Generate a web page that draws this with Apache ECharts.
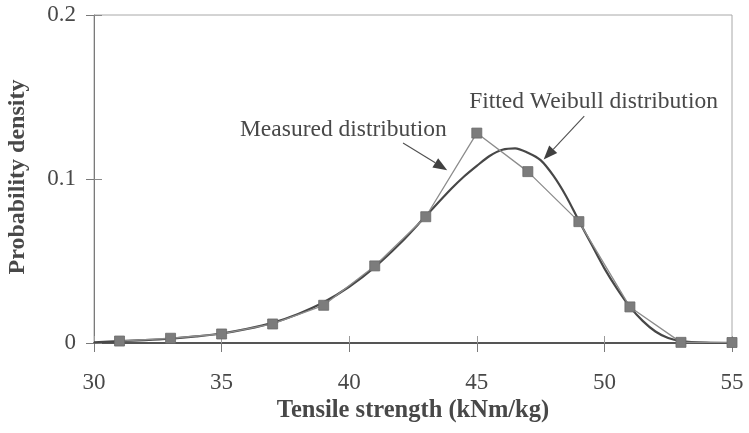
<!DOCTYPE html>
<html>
<head>
<meta charset="utf-8">
<title>Tensile strength distribution</title>
<script src="https://cdn.jsdelivr.net/npm/echarts@6/dist/echarts.min.js"></script>
<style>
  html, body { margin: 0; padding: 0; background: #ffffff; }
  #chart { width: 749px; height: 433px; }
</style>
</head>
<body>
<div id="chart"></div>
<script>
// Measured tensile strength histogram (kNm/kg vs probability density)
const measuredX = [31, 33, 35, 37, 39, 41, 43, 45, 47, 49, 51, 53, 55];
const measuredY = [0.0012, 0.0029, 0.0055, 0.0116, 0.0230, 0.0470, 0.0770, 0.1280, 0.1045, 0.0740, 0.0220, 0.0004, 0.0003];

// Fitted Weibull density, sampled along the curve
const weibullX = [30, 31, 32, 33, 34, 35, 36, 37, 38, 39, 40, 41, 42, 43, 44, 44.5, 45, 45.5, 46, 46.5, 47, 47.5, 48, 48.5, 49, 49.5, 50, 50.5, 51, 51.5, 52, 52.5, 53, 54, 55];
const weibullY = [0.0004, 0.0011, 0.0017, 0.0026, 0.0040, 0.0058, 0.0086, 0.0123, 0.0177, 0.0248, 0.0343, 0.0463, 0.0608, 0.0774, 0.0940, 0.1015, 0.1080, 0.1140, 0.1178, 0.1187, 0.1160, 0.1115, 0.1020, 0.0895, 0.0745, 0.0600, 0.0455, 0.0330, 0.0220, 0.0135, 0.0070, 0.0030, 0.0012, 0.0002, 0.0000];

// Axis ticks
const xTicks = { min: 30, max: 55, step: 5 };
const yTicks = { min: 0, max: 0.2, step: 0.1 };

// Callouts: text anchor and arrow (tail -> head) in data units
const notes = [
  { text: 'Measured distribution', at: [35.72, 0.1298], tail: [42.11, 0.1219], head: [43.84, 0.1054] },
  { text: 'Fitted Weibull distribution', at: [44.70, 0.1469], tail: [49.21, 0.1384], head: [47.62, 0.1119] }
];

const serif = '"Liberation Serif", "DejaVu Serif", serif';
const textColor = '#484848';

const chart = echarts.init(document.getElementById('chart'), null, { renderer: 'canvas' });

const zip = (xs, ys) => xs.map((x, i) => [x, ys[i]]);

const baseX = {
  type: 'value', min: xTicks.min, max: xTicks.max, interval: xTicks.step,
  splitLine: { show: false }
};
const baseY = {
  type: 'value', min: yTicks.min, max: yTicks.max, interval: yTicks.step,
  splitLine: { show: false }
};

chart.setOption({
  animation: false,
  backgroundColor: '#ffffff',
  grid: {
    left: 94, right: 17, top: 15, bottom: 90,
    show: true, borderColor: '#a8a8a8', borderWidth: 1, backgroundColor: 'transparent'
  },
  xAxis: [
    Object.assign({}, baseX, {
      position: 'bottom',
      axisLine: { show: true, onZero: false, lineStyle: { color: '#555555', width: 2 } },
      axisTick: { show: true, inside: false, length: 9, lineStyle: { color: '#7a7a7a', width: 1 } },
      axisLabel: { margin: 28, fontFamily: serif, fontSize: 23, color: textColor }
    }),
    Object.assign({}, baseX, {
      position: 'bottom',
      axisLine: { show: false },
      axisTick: { show: true, inside: true, length: 7, lineStyle: { color: '#9a9a9a', width: 1 } },
      axisLabel: { show: false }
    })
  ],
  yAxis: [
    Object.assign({}, baseY, {
      position: 'left',
      axisLine: { show: true, onZero: false, lineStyle: { color: '#7a7a7a', width: 1 } },
      axisTick: { show: true, inside: false, length: 8, lineStyle: { color: '#7a7a7a', width: 1 } },
      axisLabel: { margin: 18, fontFamily: serif, fontSize: 23, color: textColor }
    }),
    Object.assign({}, baseY, {
      position: 'left',
      axisLine: { show: false },
      axisTick: { show: true, inside: true, length: 8, lineStyle: { color: '#8a8a8a', width: 1 } },
      axisLabel: { show: false }
    })
  ],
  series: [
    {
      name: 'Fitted Weibull distribution',
      type: 'line',
      xAxisIndex: 0, yAxisIndex: 0,
      data: zip(weibullX, weibullY),
      smooth: 0.3,
      showSymbol: false,
      lineStyle: { color: '#474747', width: 2.2 },
      z: 3
    },
    {
      name: 'Measured distribution',
      type: 'line',
      xAxisIndex: 0, yAxisIndex: 0,
      data: zip(measuredX, measuredY),
      symbol: 'rect',
      symbolSize: 10,
      showSymbol: true,
      itemStyle: { color: '#7c7c7c', borderColor: '#6a6a6a', borderWidth: 0.8 },
      lineStyle: { color: '#8c8c8c', width: 1.3 },
      z: 4
    }
  ]
});

// Axis titles and callouts, positioned from data coordinates
function px(pt) { return chart.convertToPixel({ gridIndex: 0 }, pt); }

function arrow(tail, head) {
  const a = px(tail), b = px(head);
  const dx = b[0] - a[0], dy = b[1] - a[1];
  const len = Math.hypot(dx, dy);
  const ux = dx / len, uy = dy / len;
  const hl = 14, hw = 5.5;
  const bx = b[0] - ux * hl, by = b[1] - uy * hl;
  return [
    { type: 'line', shape: { x1: a[0], y1: a[1], x2: bx, y2: by }, style: { stroke: '#505050', lineWidth: 1.1 }, z: 10 },
    { type: 'polygon', shape: { points: [[b[0], b[1]], [bx - uy * hw, by + ux * hw], [bx + uy * hw, by - ux * hw]] }, style: { fill: '#404040' }, z: 10 }
  ];
}

const g = [];
notes.forEach(n => {
  const p = px(n.at);
  g.push({
    type: 'text', x: p[0], y: p[1], z: 10,
    style: { text: n.text, font: '23.5px ' + serif, fill: textColor, align: 'left', verticalAlign: 'middle' }
  });
  arrow(n.tail, n.head).forEach(e => g.push(e));
});

const rect = chart.getModel().getComponent('grid', 0).coordinateSystem.getRect();
g.push({
  type: 'text', x: rect.x + rect.width / 2, y: 411, z: 10,
  style: { text: 'Tensile strength (kNm/kg)', font: 'bold 24.5px ' + serif, fill: textColor, align: 'center', verticalAlign: 'middle' }
});
g.push({
  type: 'text', x: 18, y: rect.y + rect.height / 2 - 2, rotation: Math.PI / 2, z: 10,
  style: { text: 'Probability density', font: 'bold 24px ' + serif, fill: textColor, align: 'center', verticalAlign: 'middle' }
});

chart.setOption({ graphic: { elements: g } });
</script>
</body>
</html>
